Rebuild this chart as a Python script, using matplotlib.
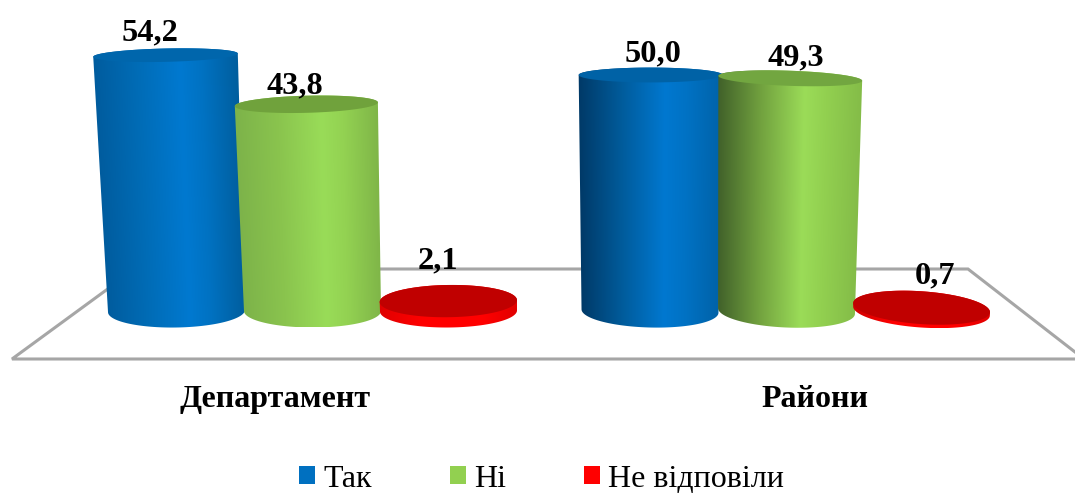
import matplotlib
matplotlib.use('Agg')
import matplotlib.pyplot as plt
import numpy as np
from matplotlib.colors import to_rgb
from matplotlib.patches import Patch, PathPatch, Polygon
from matplotlib.path import Path

categories = ['Департамент', 'Райони']
series_names = ['Так', 'Ні', 'Не відповіли']
tak = [54.2, 50.0]
ni = [43.8, 49.3]
ne_vidpovily = [2.1, 0.7]

# layout, pixels of the 1075x494 picture
W, H = 1075, 494
PX_PER_UNIT = 4.72
BASE_PX = 311
base_x = [[176.5, 650], [312.5, 786.5], [448.5, 921.5]]
label_x = [[150, 653], [295, 796], [438, 935]]
label_gap = [[22, 21], [18, 20], [40, 32]]
tilt = [[-1.3, 0.0], [-1.5, 2.0], [-0.8, 4.0]]
base_tilt = [[-1.0, 1.5], [0.0, 2.5], [-0.5, 4.0]]
legend_colors = ['#0070c0', '#92d050', '#ff0000']
top_colors = [['#0066ac', '#0062a6'], ['#70a23c', '#72a640'], ['#c00000', '#c00000']]
shades = [
    [['#005c9e', '#006cb6', '#0079d0', '#0072c2', '#005e9e'],
     ['#003a68', '#005c9c', '#0078d0', '#0072c4', '#0062a8']],
    [['#7db34a', '#8ac44e', '#99dc58', '#93d252', '#7fb548'],
     ['#41612a', '#72a23f', '#9bdc58', '#92d050', '#84bc48']],
    [['#e00000', '#ff0000', '#ff0000', '#ff0000', '#e00000'],
     ['#d00000', '#ff0000', '#ff0000', '#ff0000', '#e00000']],
]
stops = [0.0, 0.3, 0.6, 0.75, 1.0]


def py(px):
    return (BASE_PX - px) / PX_PER_UNIT


def ellipse(cx, cy, a, b, deg, t):
    phi = np.radians(deg)
    dx, dy = a * np.cos(t), b * np.sin(t)
    return cx + dx * np.cos(phi) + dy * np.sin(phi), cy + (-dx * np.sin(phi) + dy * np.cos(phi)) / PX_PER_UNIT


def cylinder(ax, xb, value, shade, top_color, deg_top, deg_base, z):
    xt = xb + 0.000457 * (xb - 620) * value
    a_base, a_top = 68.5, 68.5 + 0.07 * value
    b_base, b_top = 16.5, 16.5 * (1 - 0.011 * value)

    t1 = np.linspace(np.pi, 2 * np.pi, 80)
    t2 = np.linspace(0, np.pi, 80)
    bx, by = ellipse(xb, 0, a_base, b_base, deg_base, t1)
    tx, ty = ellipse(xt, value, a_top, b_top, deg_top, t2)
    verts = np.column_stack([np.r_[bx, tx], np.r_[by, ty]])
    body = Path(np.vstack([verts, verts[:1]]), closed=True)

    # shading runs across the cylinder, following its slanted sides
    xs = np.linspace(verts[:, 0].min() - 2, verts[:, 0].max() + 2, 320)
    ys = np.linspace(verts[:, 1].min(), verts[:, 1].max(), 200)
    xx, yy = np.meshgrid(xs, ys)
    f = np.clip(yy / value, 0, 1)
    left = (xb - a_base) + f * ((xt - a_top) - (xb - a_base))
    right = (xb + a_base) + f * ((xt + a_top) - (xb + a_base))
    u = (xx - left) / (right - left)
    rgb = np.array([to_rgb(c) for c in shade])
    img = np.dstack([np.interp(u, stops, rgb[:, i]) for i in range(3)])

    im = ax.imshow(img, extent=(xs[0], xs[-1], ys[0], ys[-1]), origin='lower',
                   aspect='auto', interpolation='bilinear', zorder=z)
    im.set_clip_path(PathPatch(body, transform=ax.transData))

    t = np.linspace(0, 2 * np.pi, 160)
    ex, ey = ellipse(xt, value, a_top, b_top, deg_top, t)
    ax.add_patch(Polygon(np.column_stack([ex, ey]), closed=True, fc=top_color, ec='none', zorder=z + 0.1))


fig = plt.figure(figsize=(W / 100, H / 100), dpi=100)
ax = fig.add_axes([0, 0, 1, 1])
plt.rcParams['font.family'] = ['Liberation Serif', 'DejaVu Serif']

# floor
floor = [(12, 359), (135, 269), (968, 269), (1084, 359)]
ax.add_patch(Polygon([(x, py(y)) for x, y in floor], closed=True, fc='white', ec='#a6a6a6', lw=2.2, zorder=1))

values = [tak, ni, ne_vidpovily]
z = 2
for g in range(len(categories)):
    for s in range(len(series_names)):
        cylinder(ax, base_x[s][g], values[s][g], shades[s][g], top_colors[s][g], tilt[s][g], base_tilt[s][g], z)
        z += 1

for g in range(len(categories)):
    for s in range(len(series_names)):
        v = values[s][g]
        ax.text(label_x[s][g], v + label_gap[s][g] / PX_PER_UNIT, f'{v:.1f}'.replace('.', ','),
                ha='center', va='center', fontsize=23.3, fontweight='bold',
                family=['Liberation Serif', 'DejaVu Serif'], zorder=30)

cat_x = [275, 815]
for x, name in zip(cat_x, categories):
    ax.text(x, py(399), name, ha='center', va='center', fontsize=23, fontweight='bold',
            family=['Liberation Serif', 'DejaVu Serif'], zorder=30)

handles = [Patch(fc=c, ec='none', label=n) for c, n in zip(legend_colors, series_names)]
ax.legend(handles=handles, ncol=3, frameon=False, loc='center', bbox_to_anchor=(541.5 / W, 1 - 479 / H),
          bbox_transform=fig.transFigure, handlelength=0.5, handleheight=0.5,
          handletextpad=0.25, columnspacing=2.45, borderpad=0, prop={'family': 'Liberation Serif', 'size': 23})

ax.set_xlim(0, W)
ax.set_ylim(py(H), py(0))
ax.axis('off')
fig.savefig('out.png', dpi=100)
